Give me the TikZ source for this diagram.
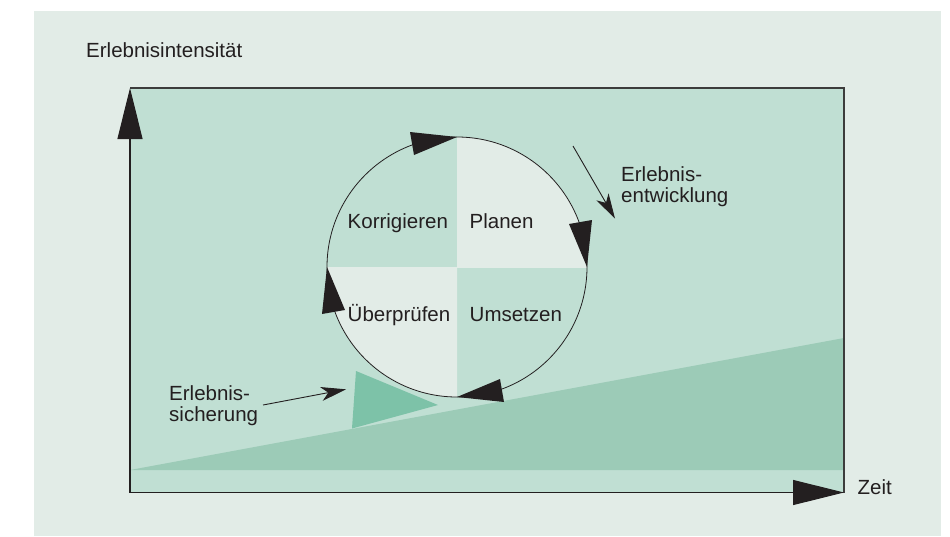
\documentclass[tikz,border=0pt]{standalone}
\usepackage{fontspec}
\setmainfont{Liberation Sans}
\usetikzlibrary{arrows.meta,calc}
\definecolor{outerbg}{HTML}{E2ECE7}
\definecolor{innerbg}{HTML}{C0DFD3}
\definecolor{wedgecol}{HTML}{9CCBB7}
\definecolor{tricol}{HTML}{7DC2A8}
\definecolor{lightq}{HTML}{E2ECE7}
\definecolor{inkcol}{HTML}{231F20}
\definecolor{framecol}{HTML}{3C3C3C}
\tikzset{
  lbl/.style={font=\fontsize{20.5}{21}\selectfont, text=inkcol, inner sep=0pt, anchor=base west},
  lbl2/.style={font=\fontsize{20.5}{21}\selectfont, text=inkcol, inner sep=0pt, align=left, anchor=base west},
  frameline/.style={draw=framecol, line width=1.1pt},
  axisline/.style={draw=inkcol, line width=1.1pt, -{Triangle[length=51pt,width=25pt]}},
  headfill/.style={fill=inkcol},
  thinarrow/.style={draw=inkcol, line width=0.9pt, -{Stealth[length=25pt,width=14pt,inset=7pt]}},
  ring/.style={draw=inkcol, line width=0.8pt}
}
\begin{document}
\begin{tikzpicture}[x=1pt,y=-1pt]
\useasboundingbox (0,0) rectangle (950,536);
% backgrounds
\fill[outerbg] (34,11) rectangle (941,536);
\fill[innerbg] (130,88) rectangle (844,492.5);
\fill[wedgecol] (130,470) -- (844,338) -- (844,470) -- cycle;
\fill[tricol] (356,371) -- (438,405) -- (352,428.5) -- cycle;
% coordinates
\coordinate (O) at (130,492.5);
\coordinate (Ytop) at (130,88);
\coordinate (Xend) at (844,492.5);
\coordinate (TR) at (844,88);
\coordinate (C) at (457,267);
% light quadrants
\begin{scope}
  \clip (C) rectangle ++(140,-140);
  \fill[lightq] (C) circle[radius=130];
\end{scope}
\begin{scope}
  \clip (C) rectangle ++(-140,140);
  \fill[lightq] (C) circle[radius=130];
\end{scope}
\draw[ring] (C) circle[radius=130];
% circle arrowheads (clockwise)
\fill[headfill] ($(C)+(0,-130)$) -- ($(C)+(-47,-135)$) -- ($(C)+(-43,-112)$) -- cycle;
\fill[headfill] ($(C)+(130,0)$) -- ($(C)+(135,-47)$) -- ($(C)+(112,-43)$) -- cycle;
\fill[headfill] ($(C)+(0,130)$) -- ($(C)+(47,135)$) -- ($(C)+(43,112)$) -- cycle;
\fill[headfill] ($(C)+(-130,0)$) -- ($(C)+(-135,47)$) -- ($(C)+(-112,43)$) -- cycle;
% frame
\draw[frameline] (Ytop) -- (TR) -- (Xend);
\draw[axisline] (O) -- (Ytop);
\draw[axisline] (O) -- (Xend);
% labels
\node[lbl] (yl) at (86,57.3) {Erlebnisintensität};
\node[lbl] (xl) at (857.5,494.3) {Zeit};
\node[lbl] (korr) at (347.5,228) {Korrigieren};
\node[lbl] (plan) at (469.5,228) {Planen};
\node[lbl] (uebe) at (347.5,321.7) {Überprüfen};
\node[lbl] (umse) at (469.5,321.7) {Umsetzen};
\node[lbl2] (entw) at (621,202) {Erlebnis-\\entwicklung};
\node[lbl2] (sich) at (169,421) {Erlebnis-\\sicherung};
% thin arrows
\coordinate (e1) at (573,146);
\coordinate (e2) at (615,218.5);
\coordinate (s1) at (263,405);
\coordinate (s2) at (346,389.3);
\draw[thinarrow] (e1) -- (e2);
\draw[thinarrow] (s1) -- (s2);
\end{tikzpicture}
\end{document}
